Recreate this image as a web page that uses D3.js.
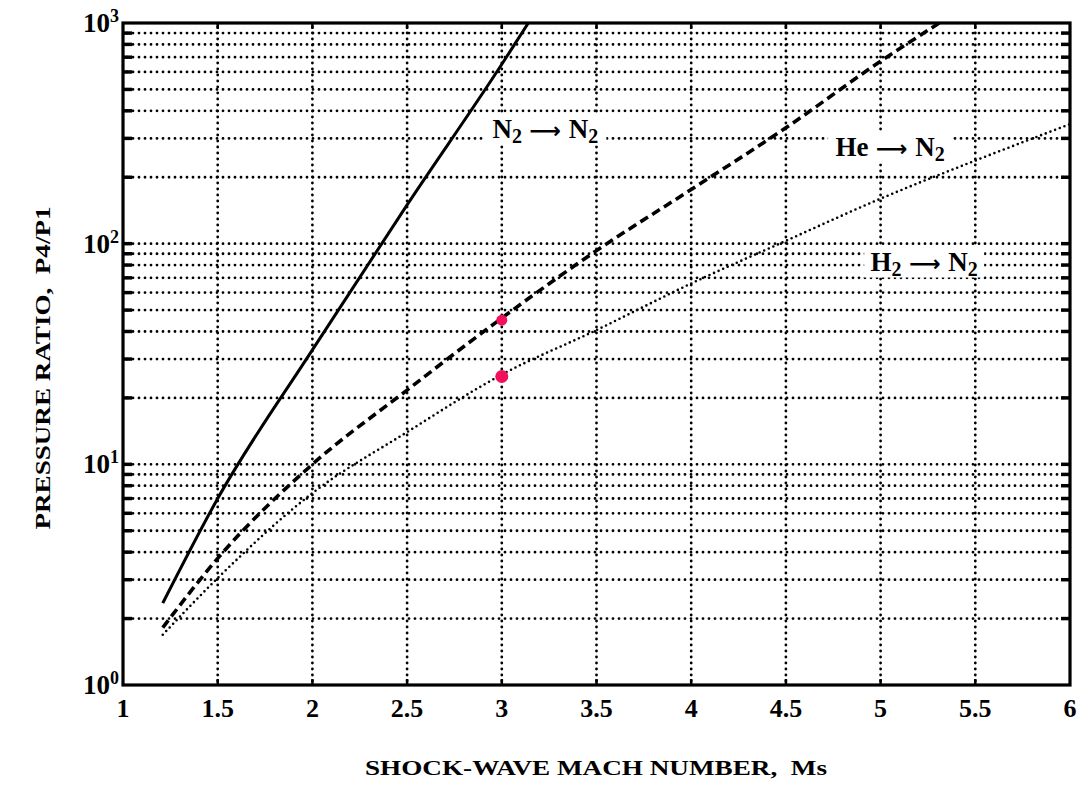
<!DOCTYPE html>
<html>
<head>
<meta charset="utf-8">
<script src="https://cdn.jsdelivr.net/npm/d3@7"></script>
<style>
  body { margin: 0; background: #fff; }
  svg { display: block; font-family: 'Liberation Serif', 'DejaVu Serif', serif; }
</style>
</head>
<body>
<div id="chart"></div>
<script>
// shock-wave Mach number vs pressure ratio p4/p1
const machN2 = [1.21, 1.5, 2, 2.5, 3, 3.14]
const ratioN2 = [2.35, 7.0, 33, 150, 650, 1000]
const machHe = [1.21, 1.5, 2, 2.5, 3, 3.5, 4, 4.5, 5, 5.31]
const ratioHe = [1.82, 3.75, 10.0, 21.7, 46, 93, 176, 335, 671, 1000]
const machH2 = [1.21, 1.5, 2, 2.5, 3, 3.5, 4, 4.5, 5, 5.5, 6]
const ratioH2 = [1.69, 3.05, 7.4, 14, 25.5, 40.6, 66, 103, 160, 238, 348]
const markMach = [3, 3]
const markRatio = [45, 25]
const xTicks = [1, 1.5, 2, 2.5, 3, 3.5, 4, 4.5, 5, 5.5, 6]
const yDecades = [1, 10, 100, 1000]
const labelFrom = [['N', '2'], ['He', ''], ['H', '2']]
const labelTo = ['N', '2']
const labelMach = [3.23, 5.05, 5.23]
const labelRatio = [330, 273, 83]

let _width = 1089
let _height = 787
let margin = { top: 23, right: 19, bottom: 102, left: 123 }
let w = _width - margin.left - margin.right
let h = _height - margin.top - margin.bottom

let svg = d3.select('#chart').append('svg').attr('width', _width).attr('height', _height)
let g = svg.append('g').attr('transform', 'translate(' + margin.left + ',' + margin.top + ')')

let x = d3.scaleLinear().domain([1, 6]).range([0, w])
let y = d3.scaleLog().domain([1, 1000]).range([h, 0])

g.append('clipPath').attr('id', 'clip').append('rect').attr('width', w).attr('height', h)

/* grid */
let yGrid = []
yDecades.slice(0, 3).forEach(d => {
  for (let k = 1; k <= 9; k++) {
    if (d * k > 1) yGrid.push(d * k)
  }
})
let grid = g.append('g').attr('stroke', '#000').attr('stroke-width', 2.8)
  .attr('stroke-linecap', 'round').attr('stroke-dasharray', '0,6')
grid.selectAll('.hg').data(yGrid).enter().append('line')
  .attr('x1', 4).attr('x2', w - 4)
  .attr('y1', d => y(d)).attr('y2', d => y(d))
grid.selectAll('.vg').data(xTicks.slice(1, -1)).enter().append('line')
  .attr('x1', d => x(d)).attr('x2', d => x(d))
  .attr('y1', 4).attr('y2', h - 2)

/* white boxes behind labels */
let labBox = [[122, 32], [124, 32], [120, 32]]
g.selectAll('.lb').data(labelFrom).enter().append('rect')
  .attr('x', (d, i) => x(labelMach[i]) - labBox[i][0] / 2)
  .attr('y', (d, i) => y(labelRatio[i]) - labBox[i][1] / 2)
  .attr('width', (d, i) => labBox[i][0])
  .attr('height', (d, i) => labBox[i][1])
  .attr('fill', '#fff')

/* curves */
let line = d3.line().x(d => x(d[0])).y(d => y(d[1])).curve(d3.curveMonotoneX)
let series = [
  { m: machN2, r: ratioN2, width: 3, dash: null, cap: 'butt' },
  { m: machHe, r: ratioHe, width: 3.6, dash: '9,5', cap: 'butt' },
  { m: machH2, r: ratioH2, width: 2.6, dash: '0,5', cap: 'round' }
]
let curves = g.append('g').attr('clip-path', 'url(#clip)')
series.forEach(s => {
  curves.append('path')
    .datum(s.m.map((v, i) => [v, s.r[i]]))
    .attr('d', line)
    .attr('fill', 'none')
    .attr('stroke', '#000')
    .attr('stroke-width', s.width)
    .attr('stroke-linecap', s.cap)
    .attr('stroke-dasharray', s.dash)
})

g.selectAll('.mk').data(markMach).enter().append('circle')
  .attr('cx', d => x(d))
  .attr('cy', (d, i) => y(markRatio[i]))
  .attr('r', (d, i) => (i === 0 ? 5.5 : 6.5))
  .attr('fill', '#f2105c')

/* curve labels */
let labs = g.selectAll('.lab').data(labelFrom).enter().append('text')
  .attr('x', (d, i) => x(labelMach[i]))
  .attr('y', (d, i) => y(labelRatio[i]) + 9)
  .attr('text-anchor', 'middle')
  .attr('font-size', 27)
  .attr('font-weight', 'bold')
labs.each(function(d) {
  let t = d3.select(this)
  t.append('tspan').text(d[0])
  if (d[1]) t.append('tspan').attr('font-size', 20).attr('dy', 5).text(d[1])
  t.append('tspan').attr('dy', d[1] ? -5 : 0)
    .attr('font-family', 'DejaVu Sans').attr('font-size', 22).text(' \u27f6 ')
  t.append('tspan').text(labelTo[0])
  t.append('tspan').attr('font-size', 20).attr('dy', 5).text(labelTo[1])
})

/* frame and ticks */
let frame = g.append('g').attr('stroke', '#000').attr('fill', 'none')
frame.append('rect').attr('width', w).attr('height', h).attr('stroke-width', 3.2)
frame.selectAll('.lt').data(yGrid).enter().append('line')
  .attr('x1', 0).attr('x2', 9).attr('y1', d => y(d)).attr('y2', d => y(d)).attr('stroke-width', 3.5)
frame.selectAll('.rt').data(yGrid).enter().append('line')
  .attr('x1', w).attr('x2', w - 9).attr('y1', d => y(d)).attr('y2', d => y(d)).attr('stroke-width', 3.5)
frame.selectAll('.bt').data(xTicks.slice(1, -1)).enter().append('line')
  .attr('x1', d => x(d)).attr('x2', d => x(d)).attr('y1', h).attr('y2', h - 6).attr('stroke-width', 2.5)
frame.selectAll('.tt').data(xTicks.slice(1, -1)).enter().append('line')
  .attr('x1', d => x(d)).attr('x2', d => x(d)).attr('y1', 0).attr('y2', 6).attr('stroke-width', 2.5)

/* tick labels */
g.selectAll('.xl').data(xTicks).enter().append('text')
  .attr('x', d => x(d))
  .attr('y', h + 32)
  .attr('text-anchor', 'middle')
  .attr('font-size', 26)
  .attr('font-weight', 'bold')
  .text(d => d3.format('~g')(d))

let yl = g.selectAll('.yl').data(yDecades).enter().append('text')
  .attr('x', -4)
  .attr('y', d => y(d) + 9)
  .attr('text-anchor', 'end')
  .attr('font-size', 27)
  .attr('font-weight', 'bold')
yl.append('tspan').text('10')
yl.append('tspan').attr('font-size', 18).attr('dy', -10).text(d => Math.round(Math.log10(d)))

/* axis titles */
svg.append('text')
  .attr('x', 596)
  .attr('y', 775)
  .attr('text-anchor', 'middle')
  .attr('font-size', 21)
  .attr('font-weight', 'bold')
  .attr('textLength', 462)
  .attr('lengthAdjust', 'spacingAndGlyphs')
  .text('SHOCK-WAVE MACH NUMBER,\u00a0\u00a0Ms')

svg.append('text')
  .attr('transform', 'translate(50,368) rotate(-90)')
  .attr('text-anchor', 'middle')
  .attr('font-size', 21)
  .attr('font-weight', 'bold')
  .attr('textLength', 323)
  .attr('lengthAdjust', 'spacingAndGlyphs')
  .text('PRESSURE RATIO,\u00a0\u00a0P4/P1')
</script>
</body>
</html>
